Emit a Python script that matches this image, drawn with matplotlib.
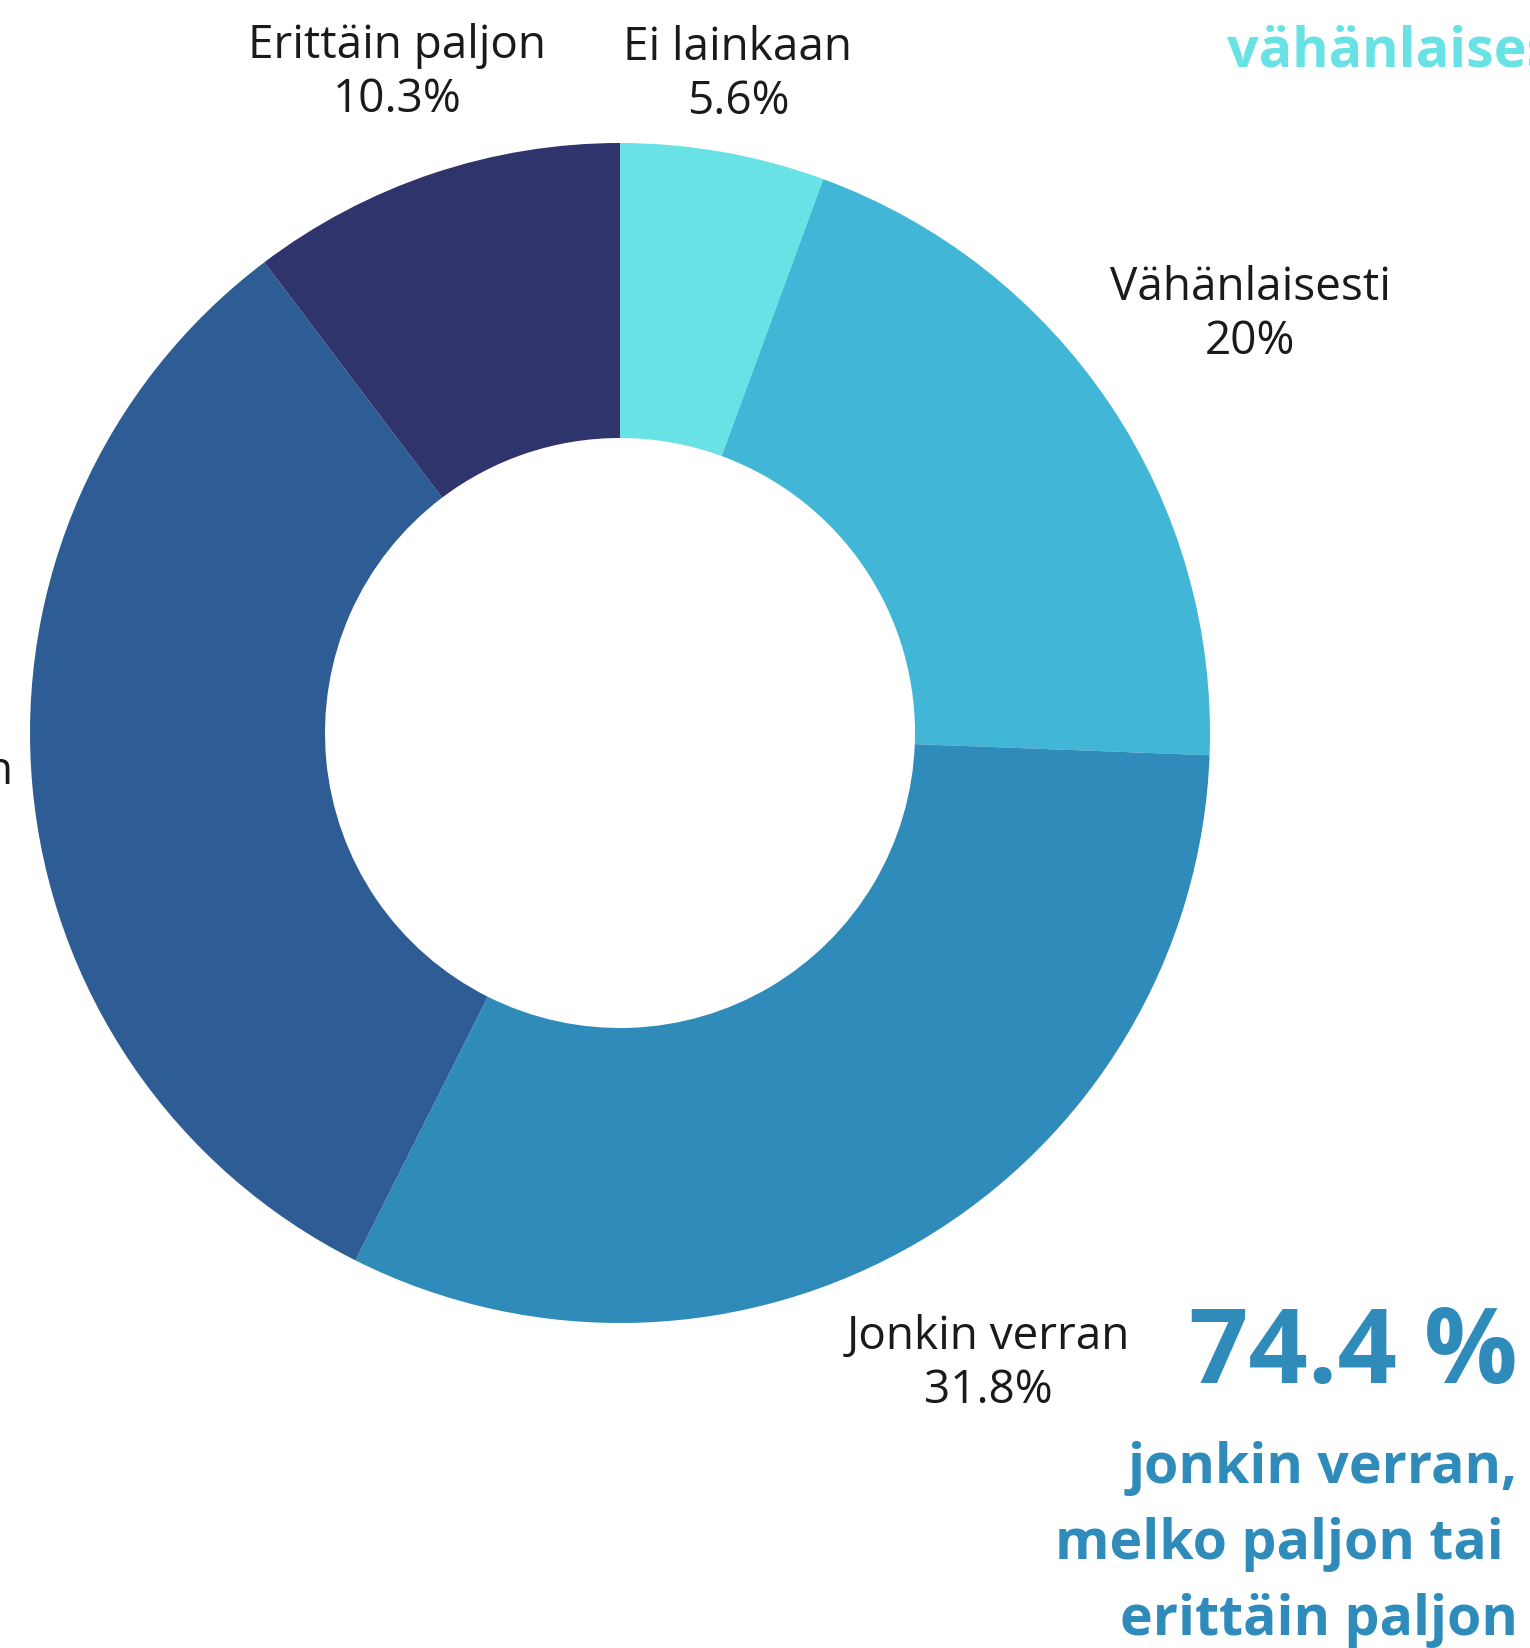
import matplotlib
matplotlib.use("Agg")
import matplotlib.pyplot as plt

plt.rcParams['font.family'] = ['Open Sans', 'DejaVu Sans']

# Data
categories = ["Ei lainkaan", "Vähänlaisesti", "Jonkin verran", "Melko paljon", "Erittäin paljon"]
values = [5.6, 20, 31.8, 32.3, 10.3]
colors = ["#69e2e6", "#42b6d6", "#2e8bba", "#2d5d94", "#30346c"]

W, H = 1530, 1648
fig = plt.figure(figsize=(W / 100, H / 100), dpi=100)
ax = fig.add_axes([0, 0, 1, 1])

cx, cy, R = 620, H - 733, 590
ax.pie(values, colors=colors, startangle=90, counterclock=False,
       center=(cx, cy), radius=R, frame=True,
       wedgeprops=dict(width=R * 0.5, linewidth=0))
ax.set_xlim(0, W)
ax.set_ylim(0, H)
ax.axis('off')

def fmt(v):
    return f"{v:g}%"

LABEL_FS = 33
# label positions (pixels from top)
label_pos = {
    "Ei lainkaan": (738, 75),
    "Vähänlaisesti": (1250, 315),
    "Jonkin verran": (988, 1364),
    "Erittäin paljon": (397, 73),
}
for cat, v in zip(categories, values):
    txt = f"{cat}\n{fmt(v)}"
    if cat in label_pos:
        x, y = label_pos[cat]
        ax.text(x, H - y, txt, ha='center', va='center', ma='center',
                fontsize=LABEL_FS, color='#1a1a1a', linespacing=1.25)
    else:
        # Melko paljon: block whose first line right edge is near the left edge
        ax.text(13, H - 779 + 30, txt, ha='right', va='top', ma='center',
                fontsize=LABEL_FS, color='#1a1a1a', linespacing=1.25)

high = sum(values[2:])
low = sum(values[:2])

BLUE = '#2e8bba'
CYAN = '#69e2e6'
ax.text(1518, H - 1356, f"{high:.1f} %", ha='right', va='center',
        fontsize=75, fontweight='bold', color=BLUE)
ax.text(1518, H - 1468, "jonkin verran,", ha='right', va='center',
        fontsize=40, fontweight='bold', color=BLUE)
ax.text(1518, H - 1545, "melko paljon tai ", ha='right', va='center',
        fontsize=40, fontweight='bold', color=BLUE)
ax.text(1518, H - 1620, "erittäin paljon", ha='right', va='center',
        fontsize=40, fontweight='bold', color=BLUE)

ax.text(1227, H - 52, "vähänlaisesti", ha='left', va='center',
        fontsize=40, fontweight='bold', color=CYAN)
ax.text(1227, H + 24, "ei lainkaan tai", ha='left', va='center',
        fontsize=40, fontweight='bold', color=CYAN)
ax.text(1227, H + 110, f"{low:.1f} %", ha='left', va='center',
        fontsize=75, fontweight='bold', color=CYAN)

fig.savefig("out.png", dpi=100)
